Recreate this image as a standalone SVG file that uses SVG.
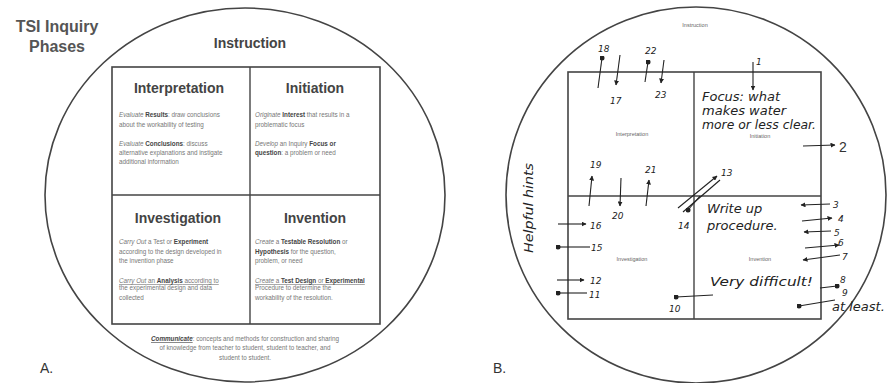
<svg xmlns="http://www.w3.org/2000/svg" width="887" height="383" viewBox="0 0 887 383">
<defs>
<marker id="ah" viewBox="0 0 10 10" refX="9" refY="5" markerWidth="5" markerHeight="5" orient="auto-start-reverse" markerUnits="userSpaceOnUse"><path d="M0,0 L10,5 L0,10 Z" fill="#222"/></marker>
<marker id="dot" viewBox="0 0 10 10" refX="5" refY="5" markerWidth="5" markerHeight="5" markerUnits="userSpaceOnUse"><circle cx="5" cy="5" r="5" fill="#222"/></marker>
</defs>
<style>
.bg{fill:#fff}
.ring{fill:none;stroke:#444;stroke-width:1.6}
.grid{fill:none;stroke:#444;stroke-width:1.6}
.div{stroke:#444;stroke-width:1.4}
.title{font-family:"Liberation Sans",Arial,sans-serif;font-weight:bold;fill:#555;font-size:16px;text-anchor:middle}
.head{font-family:"Liberation Sans",Arial,sans-serif;font-weight:bold;fill:#444;font-size:14px;text-anchor:middle}
.body{font-family:"Liberation Sans",Arial,sans-serif;fill:#777;font-size:6.3px}
.tiny{font-family:"Liberation Sans",Arial,sans-serif;fill:#666;font-size:5.5px;text-anchor:middle}
.lbl{font-family:"Liberation Sans",Arial,sans-serif;fill:#333;font-size:14px}
.hw{font-family:"DejaVu Sans",sans-serif;font-style:italic;fill:#222;font-size:13px}
.hn{font-family:"DejaVu Sans",sans-serif;font-style:italic;fill:#222;font-size:9px}
.c{fill:none;stroke:#222;stroke-width:1.1}
</style>
<rect class="bg" x="0" y="0" width="887" height="383"/>

<!-- Panel A -->
<g id="panelA">
<ellipse class="ring" cx="245" cy="195" rx="200" ry="187"/>
<text class="title" x="57" y="32">TSI Inquiry</text>
<text class="title" x="57" y="52">Phases</text>
<text class="head" x="250" y="48">Instruction</text>
<rect class="grid" x="112" y="67" width="268" height="257"/>
<line class="div" x1="250" y1="67" x2="250" y2="324"/>
<line class="div" x1="112" y1="195" x2="380" y2="195"/>
<text class="lbl" x="40" y="373">A.</text>
</g>

<g id="interpretation">
<text class="head" x="179" y="93">Interpretation</text>
<text class="body" x="119" y="117"><tspan font-style="italic">Evaluate</tspan> <tspan font-weight="bold" fill="#444">Results</tspan>: draw conclusions</text>
<text class="body" x="119" y="127">about the workability of testing</text>
<text class="body" x="119" y="146"><tspan font-style="italic">Evaluate</tspan> <tspan font-weight="bold" fill="#444">Conclusions</tspan>: discuss</text>
<text class="body" x="119" y="155">alternative explanations and instigate</text>
<text class="body" x="119" y="164">additional information</text>
</g>

<g id="initiation">
<text class="head" x="315" y="93">Initiation</text>
<text class="body" x="255" y="117"><tspan font-style="italic">Originate</tspan> <tspan font-weight="bold" fill="#444">Interest</tspan> that results in a</text>
<text class="body" x="255" y="127">problematic focus</text>
<text class="body" x="255" y="146"><tspan font-style="italic">Develop</tspan> an Inquiry <tspan font-weight="bold" fill="#444">Focus or</tspan></text>
<text class="body" x="255" y="155"><tspan font-weight="bold" fill="#444">question</tspan>: a problem or need</text>
</g>

<g id="investigation">
<text class="head" x="178" y="223">Investigation</text>
<text class="body" x="119" y="244"><tspan font-style="italic">Carry Out</tspan> a Test or <tspan font-weight="bold" fill="#444">Experiment</tspan></text>
<text class="body" x="119" y="254">according to the design developed in</text>
<text class="body" x="119" y="263">the invention phase</text>
<text class="body" x="119" y="283" text-decoration="underline"><tspan font-style="italic">Carry Out</tspan> an <tspan font-weight="bold" fill="#444">Analysis</tspan> according to</text>
<text class="body" x="119" y="290" fill="#aaa">the experimental design and data</text>
<text class="body" x="119" y="300">collected</text>
</g>

<g id="invention">
<text class="head" x="315" y="223">Invention</text>
<text class="body" x="255" y="244"><tspan font-style="italic">Create</tspan> a <tspan font-weight="bold" fill="#444">Testable Resolution</tspan> or</text>
<text class="body" x="255" y="254"><tspan font-weight="bold" fill="#444">Hypothesis</tspan> for the question,</text>
<text class="body" x="255" y="263">problem, or need</text>
<text class="body" x="255" y="283" text-decoration="underline"><tspan font-style="italic">Create</tspan> a <tspan font-weight="bold" fill="#444">Test Design</tspan> or <tspan font-weight="bold" fill="#444">Experimental</tspan></text>
<text class="body" x="255" y="290" fill="#aaa">Procedure to determine the</text>
<text class="body" x="255" y="300">workability of the resolution.</text>
</g>

<g id="communicate">
<text class="body" x="245" y="341" text-anchor="middle" font-size="6.6"><tspan font-weight="bold" font-style="italic" fill="#444" text-decoration="underline">Communicate</tspan>: concepts and methods for construction and sharing</text>
<text class="body" x="245" y="350" text-anchor="middle" font-size="6.6">of knowledge from teacher to student, student to teacher, and</text>
<text class="body" x="245" y="360" text-anchor="middle" font-size="6.6">student to student.</text>
</g>

<!-- Panel B -->
<g id="panelB">
<ellipse class="ring" cx="696" cy="195" rx="190" ry="188"/>
<text class="tiny" x="695" y="27">Instruction</text>
<rect class="grid" x="568" y="72" width="253" height="247"/>
<line class="div" x1="694" y1="72" x2="694" y2="319"/>
<line class="div" x1="568" y1="196" x2="821" y2="196"/>
<text class="tiny" x="632" y="136">Interpretation</text>
<text class="tiny" x="760" y="138">Initiation</text>
<text class="tiny" x="632" y="261">Investigation</text>
<text class="tiny" x="760" y="261">Invention</text>
<text class="lbl" x="493" y="373">B.</text>
</g>

<g id="notes">
<text class="hw" x="702" y="101" font-size="11.5">Focus: what</text>
<text class="hw" x="702" y="115" font-size="11.5">makes water</text>
<text class="hw" x="702" y="129" font-size="11.5" textLength="114" lengthAdjust="spacingAndGlyphs">more or less clear.</text>
<text class="hw" x="707" y="213">Write up</text>
<text class="hw" x="707" y="230">procedure.</text>
<text class="hw" x="710" y="286" textLength="103" lengthAdjust="spacingAndGlyphs">Very difficult!</text>
<text class="hw" x="832" y="311" font-size="12">at least.</text>
<text class="hw" x="533" y="253" transform="rotate(-90 533 253)" font-size="12" textLength="90" lengthAdjust="spacingAndGlyphs">Helpful hints</text>
</g>

<g id="numbers">
<text class="hn" x="598" y="52">18</text>
<text class="hn" x="610" y="104">17</text>
<text class="hn" x="645" y="54">22</text>
<text class="hn" x="655" y="98">23</text>
<text class="hn" x="756" y="65">1</text>
<text class="lbl" x="839" y="152">2</text>
<text class="hn" x="590" y="168">19</text>
<text class="hn" x="612" y="219">20</text>
<text class="hn" x="645" y="173">21</text>
<text class="hn" x="721" y="176">13</text>
<text class="hn" x="678" y="229">14</text>
<text class="hn" x="590" y="229">16</text>
<text class="hn" x="591" y="251">15</text>
<text class="hn" x="590" y="284">12</text>
<text class="hn" x="589" y="298">11</text>
<text class="hn" x="669" y="312">10</text>
<text class="hn" x="833" y="208">3</text>
<text class="hn" x="838" y="222">4</text>
<text class="hn" x="834" y="236">5</text>
<text class="hn" x="838" y="246">6</text>
<text class="hn" x="842" y="260">7</text>
<text class="hn" x="840" y="283">8</text>
<text class="hn" x="842" y="296">9</text>
</g>

<g id="connectors">
<line class="c" x1="598" y1="88" x2="602" y2="58" marker-end="url(#dot)"/>
<line class="c" x1="620" y1="55" x2="616" y2="85" marker-end="url(#ah)"/>
<line class="c" x1="645" y1="82" x2="648" y2="62" marker-end="url(#dot)"/>
<line class="c" x1="664" y1="60" x2="661" y2="83" marker-end="url(#ah)"/>
<line class="c" x1="753" y1="62" x2="753" y2="90" marker-end="url(#ah)"/>
<line class="c" x1="803" y1="146" x2="835" y2="145" marker-end="url(#ah)"/>
<line class="c" x1="589" y1="206" x2="592" y2="176" marker-end="url(#ah)"/>
<line class="c" x1="621" y1="178" x2="620" y2="206" marker-end="url(#ah)"/>
<line class="c" x1="646" y1="206" x2="649" y2="180" marker-end="url(#ah)"/>
<line class="c" x1="678" y1="208" x2="717" y2="176" marker-end="url(#ah)"/>
<line class="c" x1="683" y1="212" x2="720" y2="180"/>
<line class="c" x1="700" y1="196" x2="688" y2="210" marker-end="url(#dot)"/>
<line class="c" x1="558" y1="224" x2="586" y2="224" marker-end="url(#ah)"/>
<line class="c" x1="590" y1="247" x2="558" y2="247" marker-end="url(#dot)"/>
<line class="c" x1="557" y1="280" x2="584" y2="280" marker-end="url(#ah)"/>
<line class="c" x1="587" y1="293" x2="558" y2="293" marker-end="url(#dot)"/>
<line class="c" x1="713" y1="295" x2="676" y2="297" marker-end="url(#dot)"/>
<line class="c" x1="830" y1="204" x2="801" y2="205" marker-end="url(#ah)"/>
<line class="c" x1="802" y1="221" x2="832" y2="218" marker-end="url(#ah)"/>
<line class="c" x1="831" y1="231" x2="804" y2="232" marker-end="url(#ah)"/>
<line class="c" x1="805" y1="248" x2="839" y2="245" marker-end="url(#ah)"/>
<line class="c" x1="840" y1="255" x2="803" y2="260" marker-end="url(#ah)"/>
<line class="c" x1="820" y1="288" x2="837" y2="286" marker-end="url(#dot)"/>
<line class="c" x1="835" y1="300" x2="799" y2="306" marker-end="url(#dot)"/>
</g>
</svg>
